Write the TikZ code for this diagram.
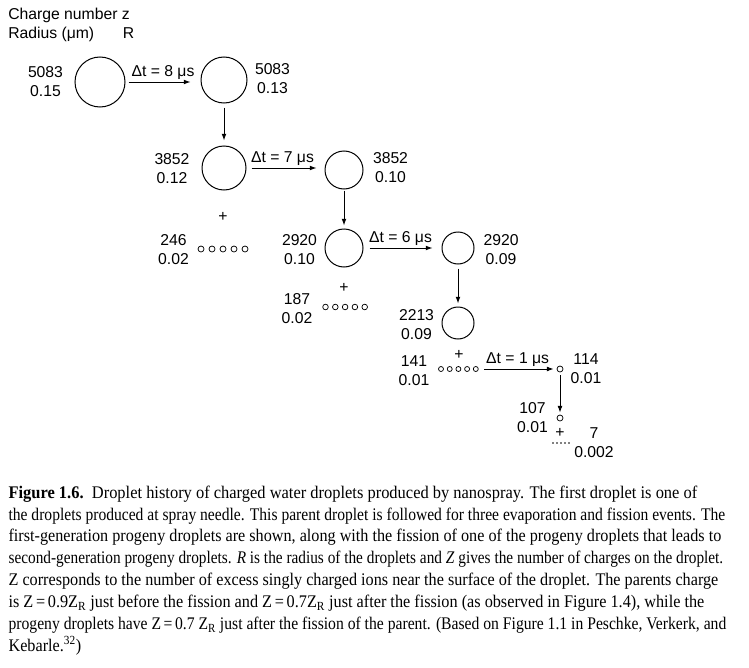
\documentclass[tikz,border=0pt]{standalone}
\usepackage{fontspec}
\usepackage{graphicx}
\setmainfont{Liberation Serif}
\newfontfamily\arialf{Liberation Sans}
\usetikzlibrary{arrows.meta}
\begin{document}
\begin{tikzpicture}[x=0.75pt,y=-0.75pt,
  drop/.style={circle,draw,line width=0.75pt,inner sep=0pt},
  dot/.style={circle,draw,line width=0.55pt,inner sep=0pt,minimum size=#1},
  tiny/.style={circle,fill,inner sep=0pt,minimum size=1.2pt},
  lab/.style={font=\arialf\fontsize{11.8}{14.25}\selectfont,align=center,inner sep=0pt},
  arr/.style={line width=0.7pt,-{Latex[length=5pt,width=3.6pt]}},
  captxt/.style={anchor=base west,inner sep=0pt,font=\fontsize{13.3}{16}\selectfont}]
\useasboundingbox (0,0) rectangle (749,667);

% header
\node[lab,anchor=base west] (hz) at (8,19.5) {Charge number z};
\node[lab,anchor=base west] (hr) at (8,38.5) {Radius (μm)};
\node[lab,anchor=base] (hR) at (128.5,38.5) {R};

% droplets
\node[drop,minimum size=37.5pt] (C1) at (100,82) {};
\node[drop,minimum size=34.5pt] (C2) at (224,80) {};
\node[drop,minimum size=33pt]   (C3) at (224,168) {};
\node[drop,minimum size=28.5pt] (C4) at (344,170) {};
\node[drop,minimum size=28.5pt] (C5) at (344,248) {};
\node[drop,minimum size=24pt]   (C6) at (458,248) {};
\node[drop,minimum size=24pt]   (C7) at (458,323) {};
\node[dot=4.5pt] (S1) at (560,369) {};
\node[dot=4.5pt] (S2) at (560,418) {};

% labels
\node[lab] (l1) at (45.5,82) {5083\\0.15};
\node[lab] (l2) at (272.5,79) {5083\\0.13};
\node[lab] (l3) at (172,169) {3852\\0.12};
\node[lab] (l4) at (390.5,168) {3852\\0.10};
\node[lab] (l5) at (299.5,249.5) {2920\\0.10};
\node[lab] (l6) at (501,249.5) {2920\\0.09};
\node[lab] (l7) at (173.5,249.5) {246\\0.02};
\node[lab] (l8) at (297,308.5) {187\\0.02};
\node[lab] (l9) at (416.5,325) {2213\\0.09};
\node[lab] (l10) at (414,371) {141\\0.01};
\node[lab] (l11) at (586,368.5) {114\\0.01};
\node[lab] (l12) at (532.5,417.5) {107\\0.01};
\node[lab] (l13) at (594,443) {7\\0.002};

% plus signs
\node[lab] (p1) at (223,217) {+};
\node[lab] (p2) at (344,288) {+};
\node[lab] (p3) at (459,355) {+};
\node[lab] (p4) at (560,433) {+};

% rows of progeny droplets
\foreach \n/\x in {a/201,b/212,c/223,d/234,e/245}
  \node[dot=4.5pt] (r1\n) at (\x,249) {};
\foreach \n/\x in {a/325.5,b/335.3,c/345.1,d/354.9,e/364.7}
  \node[dot=4.2pt] (r2\n) at (\x,307) {};
\foreach \n/\x in {a/441,b/449.7,c/458.4,d/467.1,e/475.8}
  \node[dot=3.75pt] (r3\n) at (\x,369) {};
\foreach \n/\x in {a/553,b/557,c/561,d/565,e/569}
  \node[tiny] (t\n) at (\x,443) {};

% arrows
\draw[arr,shorten <=2.25pt,shorten >=7.5pt] (C1.east) -- (C1.east -| C2.west)
  node[lab,midway,above=1.5pt] (d1) {Δt = 8 μs};
\draw[arr,shorten <=3pt,shorten >=3.75pt] (C2.south) -- (C3.north);
\draw[arr,shorten <=3.75pt,shorten >=6pt] (C3.east) -- (C3.east -| C4.west)
  node[lab,midway,above=1.5pt,xshift=-2.25pt] (d2) {Δt = 7 μs};
\draw[arr,shorten <=0.75pt,shorten >=2.25pt] (C4.south) -- (C5.north);
\draw[arr,shorten <=4.5pt,shorten >=6.75pt] (C5.east) -- (C5.east -| C6.west)
  node[lab,midway,above=1.5pt,xshift=-1.5pt] (d3) {Δt = 6 μs};
\draw[arr,shorten <=3pt,shorten >=2.25pt] (C6.south) -- (C7.north);
\draw[arr,shorten <=4.3pt,shorten >=2.25pt] (r3e.east) -- (S1.west)
  node[lab,midway,above=1.5pt] (d4) {Δt = 1 μs};
\draw[arr,shorten <=2.25pt,shorten >=1.5pt] (S1.south) -- (S2.north);

% caption
\node[captxt] (k1) at (8.3,498) {\resizebox{516.5pt}{\height}{\textbf{Figure 1.6.}\hspace{0.5em}Droplet history of charged water droplets produced by nanospray. The first droplet is one of}};
\node[captxt] (k2) at (8.3,520) {\resizebox{537.5pt}{\height}{the droplets produced at spray needle. This parent droplet is followed for three evaporation and fission events. The}};
\node[captxt] (k3) at (8.3,541.9) {\resizebox{534.5pt}{\height}{first-generation progeny droplets are shown, along with the fission of one of the progeny droplets that leads to}};
\node[captxt] (k4) at (8.3,563.9) {\resizebox{536pt}{\height}{second-generation progeny droplets. \textit{R} is the radius of the droplets and \textit{Z} gives the number of charges on the droplet.}};
\node[captxt] (k5) at (8.3,585.8) {\resizebox{532.3pt}{\height}{Z corresponds to the number of excess singly charged ions near the surface of the droplet. The parents charge}};
\node[captxt] (k6) at (8.3,607.8) {\resizebox{521.8pt}{\height}{is Z\,=\,0.9Z\textsubscript{R} just before the fission and Z\,=\,0.7Z\textsubscript{R} just after the fission (as observed in Figure 1.4), while the}};
\node[captxt] (k7) at (8.3,629.7) {\resizebox{538.3pt}{\height}{progeny droplets have Z\,=\,0.7 Z\textsubscript{R} just after the fission of the parent. (Based on Figure 1.1 in Peschke, Verkerk, and}};
\node[captxt] (k8) at (8.3,651.7) {\resizebox{54.5pt}{\height}{Kebarle.\textsuperscript{32})}};
\end{tikzpicture}
\end{document}
